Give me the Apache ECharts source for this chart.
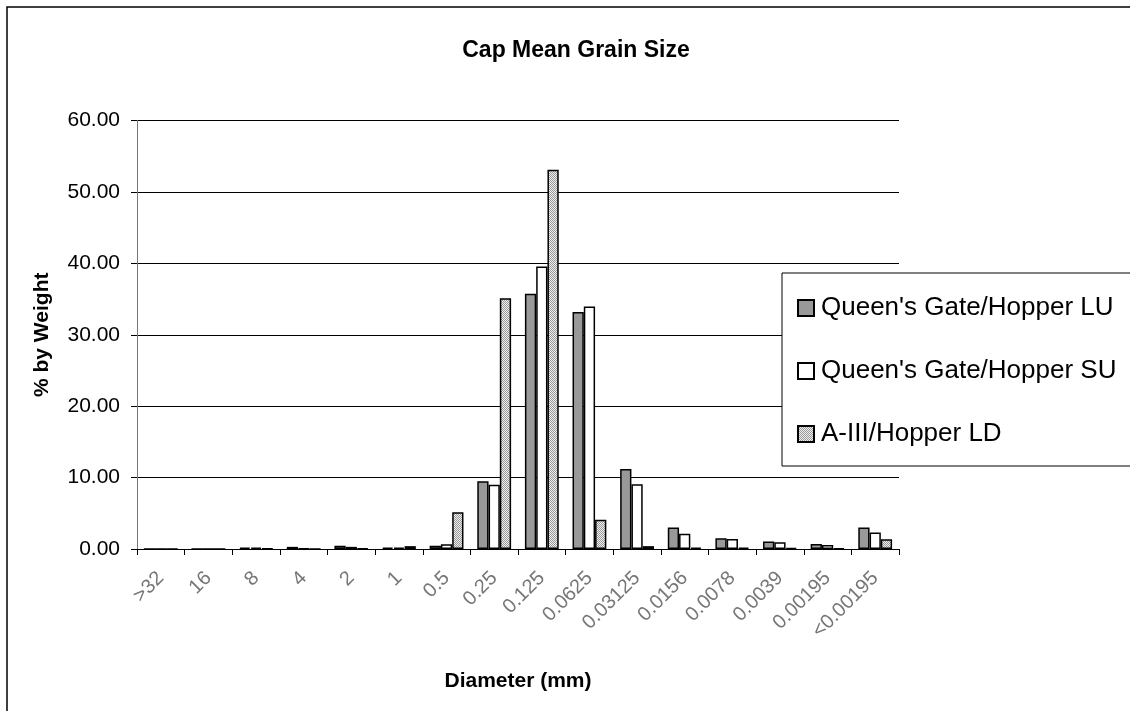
<!DOCTYPE html>
<html>
<head>
<meta charset="utf-8">
<script src="https://cdn.jsdelivr.net/npm/echarts@6/dist/echarts.min.js"></script>
<style>
html,body{margin:0;padding:0;background:#fff;}
#chart{width:1130px;height:711px;}
</style>
</head>
<body>
<div id="chart"></div>
<script>
const categories = ['>32','16','8','4','2','1','0.5','0.25','0.125','0.0625','0.03125','0.0156','0.0078','0.0039','0.00195','<0.00195'];
const seriesNames = ["Queen's Gate/Hopper LU", "Queen's Gate/Hopper SU", "A-III/Hopper LD"];
const valuesLU = [0, 0, 0.2, 0.3, 0.45, 0.2, 0.45, 9.5, 35.75, 33.2, 11.2, 3.0, 1.5, 1.05, 0.7, 3.0];
const valuesSU = [0, 0, 0.2, 0.1, 0.3, 0.2, 0.65, 9.0, 39.55, 33.97, 9.07, 2.15, 1.4, 0.95, 0.55, 2.3];
const valuesLD = [0, 0, 0.05, 0, 0.1, 0.4, 5.15, 35.1, 53.1, 4.1, 0.4, 0.2, 0.2, 0.15, 0.1, 1.35];
const yTicks = [0, 10, 20, 30, 40, 50, 60];

const FONT = '"Liberation Sans", Arial, sans-serif';

// dotted pattern for the third series
const pc = document.createElement('canvas');
pc.width = 2; pc.height = 2;
const pctx = pc.getContext('2d');
pctx.fillStyle = '#eeeeee'; pctx.fillRect(0,0,2,2);
pctx.fillStyle = '#9a9a9a'; pctx.fillRect(0,0,1,1); pctx.fillRect(1,1,1,1);

const chart = echarts.init(document.getElementById('chart'), null, {renderer:'canvas'});

function bar(name, data, color){
  return {
    name: name, type: 'bar', data: data,
    barGap: '0%', barCategoryGap: '29%',
    itemStyle: {color: color, borderColor: '#000', borderWidth: 1.5},
    emphasis: {disabled: true}
  };
}

chart.setOption({
  animation: false,
  backgroundColor: '#fff',
  textStyle: {fontFamily: FONT},
  graphic: [{
    type: 'polyline',
    shape: {points: [[7, 720], [7, 7], [1140, 7]]},
    style: {fill: 'none', stroke: '#000', lineWidth: 1.5},
    silent: true, z: -10
  }],
  title: {
    text: 'Cap Mean Grain Size',
    left: 571, top: 34, textAlign: 'center',
    textStyle: {fontFamily: FONT, fontSize: 23, fontWeight: 'bold', color: '#000'}
  },
  grid: {left: 137, right: 231, top: 120.5, bottom: 162, containLabel: false},
  legend: {
    orient: 'vertical', left: 782, top: 273,
    padding: [20, 30, 17, 15],
    itemGap: 33, itemWidth: 16, itemHeight: 16,
    icon: 'rect',
    backgroundColor: '#fff', borderColor: '#000', borderWidth: 1,
    textStyle: {fontFamily: FONT, fontSize: 26, color: '#000', lineHeight: 30, padding: [0,0,0,2]},
    data: seriesNames
  },
  xAxis: {
    type: 'category', data: categories,
    name: 'Diameter (mm)', nameLocation: 'middle', nameGap: 122,
    nameTextStyle: {fontFamily: FONT, fontSize: 21, fontWeight: 'bold', color: '#000'},
    axisLine: {lineStyle: {color: '#000', width: 1}},
    axisTick: {show: true, length: 6, lineStyle: {color: '#000'}},
    axisLabel: {rotate: 45, fontSize: 20, color: '#777', margin: 26, interval: 0, fontFamily: FONT},
    splitLine: {show: false}
  },
  yAxis: {
    type: 'value', min: 0, max: 60, interval: 10,
    name: '% by Weight', nameLocation: 'middle', nameGap: 84,
    nameTextStyle: {fontFamily: FONT, fontSize: 21, fontWeight: 'bold', color: '#000'},
    axisLine: {show: true, lineStyle: {color: '#777', width: 1}},
    axisTick: {show: true, length: 6, lineStyle: {color: '#000'}},
    axisLabel: {fontSize: 21, color: '#000', margin: 17, fontFamily: FONT,
      formatter: v => yTicks.includes(v) ? v.toFixed(2) : ''},
    splitLine: {show: true, lineStyle: {color: '#000', width: 1}}
  },
  series: [
    bar(seriesNames[0], valuesLU, '#999999'),
    bar(seriesNames[1], valuesSU, '#ffffff'),
    bar(seriesNames[2], valuesLD, {image: pc, repeat: 'repeat'})
  ]
});
</script>
</body>
</html>
